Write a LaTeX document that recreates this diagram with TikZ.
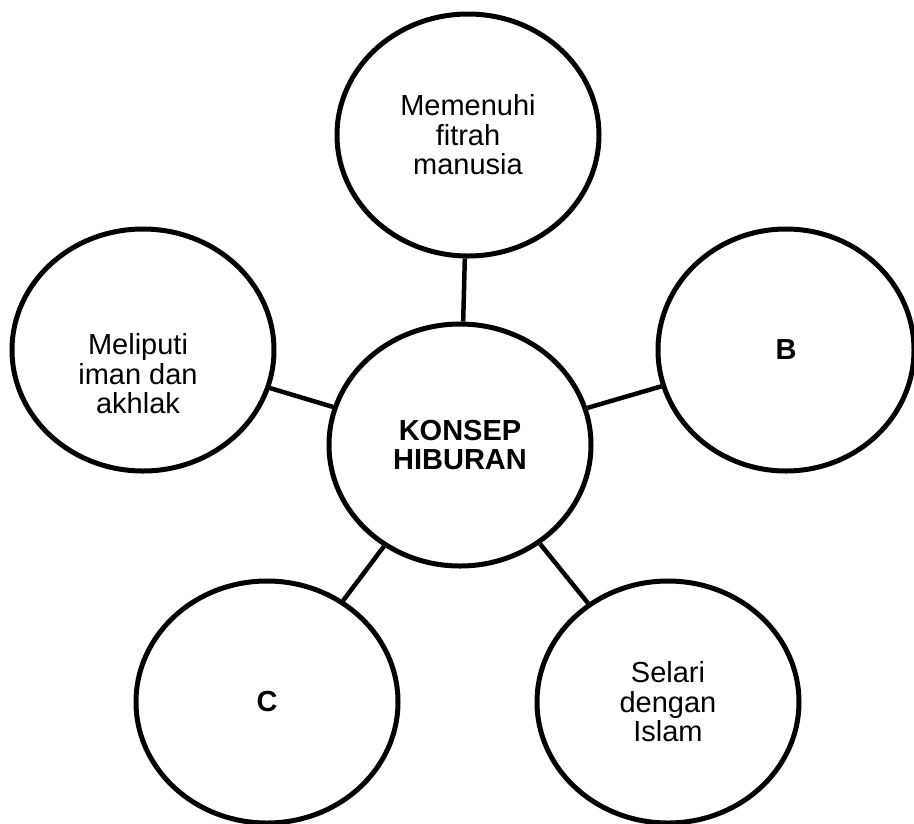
\documentclass[tikz,border=0pt]{standalone}
\usepackage{fontspec}
\setmainfont{Liberation Sans}
\usetikzlibrary{shapes.geometric}

\begin{document}
\begin{tikzpicture}[
    x=1pt, y=-1pt,
    bubble/.style={ellipse, draw=black, line width=5pt, minimum width=262pt, minimum height=242pt, inner sep=0pt, align=center, font=\fontsize{29}{29.5}\selectfont},
    txt/.style={align=center, font=\fontsize{29}{29.5}\selectfont},
    link/.style={line width=4.5pt, color=black}
]
\useasboundingbox (0,0) rectangle (914,823);

\node[bubble] (hub) at (460,445) {\bfseries KONSEP\\\bfseries HIBURAN};
\node[bubble] (fitrah) at (468,135) {Memenuhi\\fitrah\\manusia};
\node[bubble] (iman) at (143,350) {};
\node[txt] (imantext) at (138,374) {Meliputi\\iman dan\\akhlak};
\node[bubble, minimum width=256pt] (B) at (786,350) {\bfseries B};
\node[bubble] (C) at (267,702) {\bfseries C};
\node[bubble] (islam) at (668,702) {Selari\\dengan\\Islam};

\draw[link] (fitrah) -- (hub);
\draw[link] (iman) -- (hub);
\draw[link] (B) -- (hub);
\draw[link] (C) -- (hub);
\draw[link] (islam) -- (hub);

\end{tikzpicture}
\end{document}
